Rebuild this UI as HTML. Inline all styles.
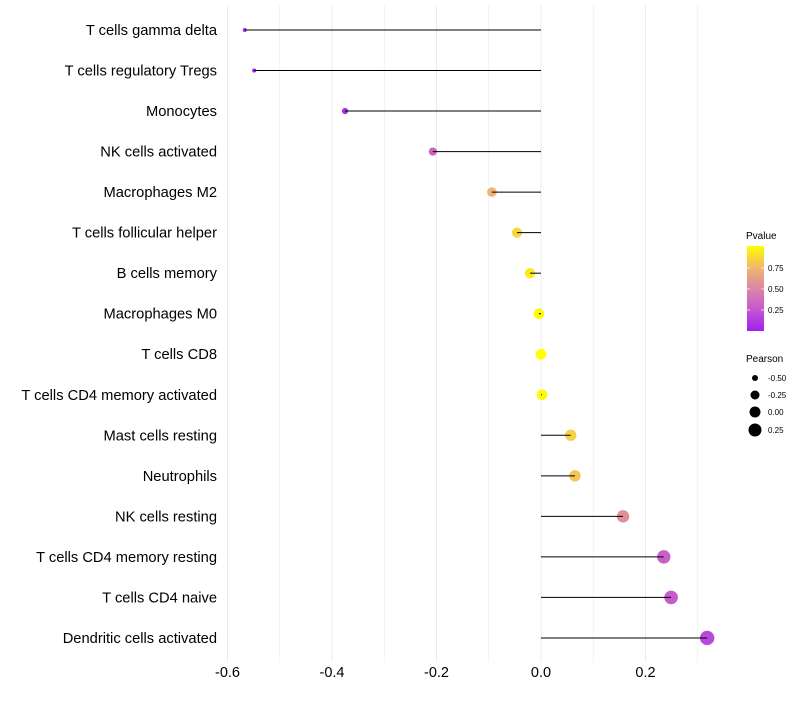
<!DOCTYPE html>
<html><head><meta charset="utf-8"><style>
body{margin:0;background:#fff;font-family:"Liberation Sans",sans-serif}
</style></head><body>
<svg id="chart" width="800" height="700" xmlns="http://www.w3.org/2000/svg">
<defs><linearGradient id="pg" x1="0" y1="1" x2="0" y2="0">
<stop offset="0" stop-color="#a020f0"/><stop offset="0.25" stop-color="#c457d0"/>
<stop offset="0.5" stop-color="#dc86a6"/><stop offset="0.75" stop-color="#f0b86a"/><stop offset="1" stop-color="#ffff00"/>
</linearGradient></defs>
<g id="grid"></g><g id="dots"></g><g id="marks"></g><g id="labels"></g>
<g>
<text x="746" y="239" font-size="10" fill="#000">Pvalue</text>
<rect x="747" y="246" width="17" height="85" fill="url(#pg)"/>
<g stroke="#fff" stroke-width="1" opacity="0.7"><line x1="747" y1="268" x2="750" y2="268"/><line x1="761" y1="268" x2="764" y2="268"/><line x1="747" y1="289" x2="750" y2="289"/><line x1="761" y1="289" x2="764" y2="289"/><line x1="747" y1="310" x2="750" y2="310"/><line x1="761" y1="310" x2="764" y2="310"/></g>
<text x="768" y="271" font-size="8">0.75</text><text x="768" y="292" font-size="8">0.50</text><text x="768" y="313" font-size="8">0.25</text>
</g>
<g>
<text x="746" y="362" font-size="10">Pearson</text>
<circle cx="755" cy="378" r="3"/><text x="768" y="381" font-size="8">-0.50</text>
<circle cx="755" cy="395" r="4.5"/><text x="768" y="398" font-size="8">-0.25</text>
<circle cx="755" cy="412" r="5.5"/><text x="768" y="415" font-size="8">0.00</text>
<circle cx="755" cy="430" r="6.5"/><text x="768" y="433" font-size="8">0.25</text>
</g>
</svg>
<script>
const categories=["T cells gamma delta","T cells regulatory  Tregs ","Monocytes","NK cells activated","Macrophages M2","T cells follicular helper","B cells memory","Macrophages M0","T cells CD8","T cells CD4 memory activated","Mast cells resting","Neutrophils","NK cells resting","T cells CD4 memory resting","T cells CD4 naive","Dendritic cells activated"];
const pearson=[-0.567,-0.549,-0.375,-0.207,-0.094,-0.046,-0.021,-0.004,0.0,0.002,0.057,0.065,0.157,0.235,0.249,0.318];
const pvalue=[0.03,0.04,0.06,0.33,0.72,0.86,0.93,0.99,1.0,0.99,0.84,0.8,0.55,0.3,0.27,0.18];
const xTicks=[-0.6,-0.4,-0.2,0.0,0.2];
const xTickLabels=["-0.6","-0.4","-0.2","0.0","0.2"];
const NS="http://www.w3.org/2000/svg";
const x=v=>541+v*522.5;
const y=i=>30+i*40.53;
const stops=[[0,[160,32,240]],[0.25,[196,87,208]],[0.5,[220,134,166]],[0.75,[240,184,106]],[1,[255,255,0]]];
function col(p){for(let k=1;k<stops.length;k++){if(p<=stops[k][0]){const a=stops[k-1],b=stops[k],t=(p-a[0])/(b[0]-a[0]);return "rgb("+a[1].map((c,j)=>Math.round(c+(b[1][j]-c)*t)).join(",")+")";}}return "rgb(255,255,0)";}
const r=v=>2+(v+0.567)/0.885*5.2;
function mk(t,a,p){const e=document.createElementNS(NS,t);for(const k in a)e.setAttribute(k,a[k]);p.appendChild(e);return e;}
const grid=document.getElementById('grid'),marks=document.getElementById('marks'),dots=document.getElementById('dots'),labels=document.getElementById('labels');
for(let v=-0.6;v<=0.31;v+=0.1){const g=mk('line',{x1:x(v),x2:x(v),y1:5,y2:662,stroke:'#ebebeb','stroke-width':Math.abs(Math.round(v*10))%2==0?1:0.6},grid);

}
xTicks.forEach((v,i)=>{const t=mk('text',{x:x(v),y:677,'font-size':14.5,'text-anchor':'middle'},labels);t.textContent=xTickLabels[i];

});
categories.forEach((c,i)=>{
const t=mk('text',{x:217,y:y(i)+5,'font-size':14.7,'text-anchor':'end','xml:space':'preserve'},labels);t.textContent=c;


const l=mk('line',{x1:x(0),x2:x(pearson[i]),y1:y(i),y2:y(i),stroke:'#000','stroke-width':1},marks);


const d=mk('circle',{cx:x(pearson[i]),cy:y(i),r:r(pearson[i]),fill:col(pvalue[i])},dots);


});
</script>
</body></html>
